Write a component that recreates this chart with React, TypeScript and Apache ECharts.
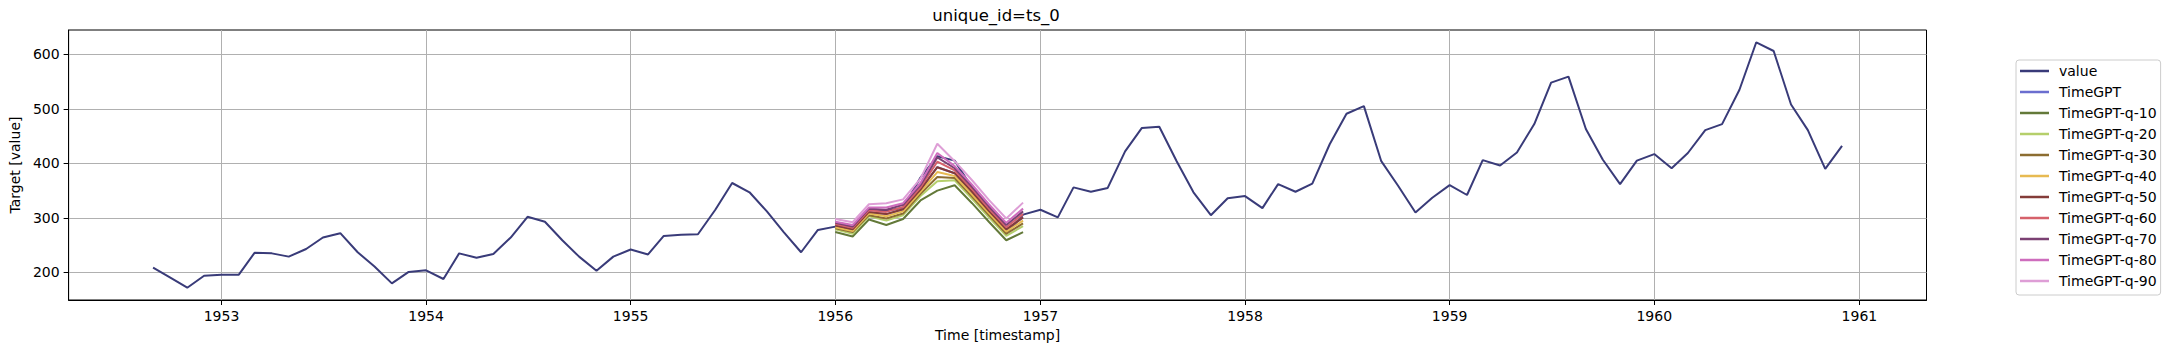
import React, { useEffect, useRef } from "react";
import * as echarts from "echarts";

// Observed series (monthly, first of month), 1952-09 .. 1960-12
const valueStart = { year: 1952, month: 9 };
const values1952 = [209, 191, 172, 194];
const values1953 = [196, 196, 236, 235, 229, 243, 264, 272, 237, 211, 180, 201];
const values1954 = [204, 188, 235, 227, 234, 264, 302, 293, 259, 229, 203, 229];
const values1955 = [242, 233, 267, 269, 270, 315, 364, 347, 312, 274, 237, 278];
const values1956 = [284, 277, 317, 313, 318, 374, 413, 405, 355, 306, 271, 306];
const values1957 = [315, 301, 356, 348, 355, 422, 465, 467, 404, 347, 305, 336];
const values1958 = [340, 318, 362, 348, 363, 435, 491, 505, 404, 359, 310, 337];
const values1959 = [360, 342, 406, 396, 420, 472, 548, 559, 463, 407, 362, 405];
const values1960 = [417, 391, 419, 461, 472, 535, 622, 606, 508, 461, 390, 432];

// Forecasts for 1956-01 .. 1956-12
const forecastStart = { year: 1956, month: 1 };
const timeGPT = [286, 279, 311, 307, 316, 352, 393, 382, 348, 313, 279, 301];
const q10 = [274, 266, 297, 287, 298, 332, 350, 360, 327, 293, 259, 274];
const q20 = [279, 271, 303, 295, 305, 340, 367, 369, 335, 301, 267, 285];
const q30 = [281, 274, 305, 299, 308, 344, 375, 373, 339, 305, 271, 290];
const q40 = [283, 276, 308, 303, 312, 348, 384, 377, 343, 309, 275, 295];
const q50 = [286, 279, 311, 307, 316, 352, 393, 382, 348, 313, 279, 301];
const q60 = [289, 282, 314, 311, 320, 356, 403, 387, 353, 317, 283, 307];
const q70 = [291, 284, 317, 315, 324, 360, 411, 391, 357, 321, 287, 312];
const q80 = [293, 287, 319, 319, 327, 364, 419, 395, 361, 325, 291, 317];
const q90 = [298, 292, 325, 327, 334, 372, 436, 404, 369, 333, 299, 328];

const seriesNames = [
  "value",
  "TimeGPT",
  "TimeGPT-q-10",
  "TimeGPT-q-20",
  "TimeGPT-q-30",
  "TimeGPT-q-40",
  "TimeGPT-q-50",
  "TimeGPT-q-60",
  "TimeGPT-q-70",
  "TimeGPT-q-80",
  "TimeGPT-q-90",
];
const seriesColors = [
  "#393b79",
  "#6b6ecf",
  "#637939",
  "#b5cf6b",
  "#8c6d31",
  "#e7ba52",
  "#843c39",
  "#d6616b",
  "#7b4173",
  "#ce6dbd",
  "#de9ed6",
];

const yearTicks = [1953, 1954, 1955, 1956, 1957, 1958, 1959, 1960, 1961];
const yTicks = [200, 300, 400, 500, 600];

const FONT = "DejaVu Sans";

function monthly(start: { year: number; month: number }, vals: number[]) {
  return vals.map((v, i) => {
    const m = start.month - 1 + i;
    const y = start.year + Math.floor(m / 12);
    return [Date.UTC(y, m % 12, 1), v];
  });
}

export default function App() {
  const ref = useRef<HTMLDivElement>(null);

  useEffect(() => {
    if (!ref.current) return;
    const chart = echarts.init(ref.current, null, { renderer: "svg" });

    const allValues = [
      ...values1952,
      ...values1953,
      ...values1954,
      ...values1955,
      ...values1956,
      ...values1957,
      ...values1958,
      ...values1959,
      ...values1960,
    ];
    const forecasts = [timeGPT, q10, q20, q30, q40, q50, q60, q70, q80, q90];
    const dataSets = [
      monthly(valueStart, allValues),
      ...forecasts.map((f) => monthly(forecastStart, f)),
    ];

    const series = seriesNames.map((name, i) => ({
      name,
      type: "line",
      data: dataSets[i],
      showSymbol: false,
      symbol: "none",
      color: seriesColors[i],
      lineStyle: { width: 2, color: seriesColors[i] },
      z: 2 + i,
    }));

    const xTickValues = yearTicks.map((y) => Date.UTC(y, 0, 1));

    const option: any = {
      animation: false,
      backgroundColor: "#ffffff",
      textStyle: { fontFamily: FONT },
      title: {
        text: "unique_id=ts_0",
        left: 996,
        top: 7,
        textAlign: "center",
        padding: 0,
        textStyle: {
          fontFamily: FONT,
          fontSize: 16.5,
          fontWeight: "normal",
          color: "#000",
        },
      },
      grid: {
        left: 66,
        right: 241.5,
        top: 30,
        bottom: 53,
        show: true,
        borderColor: "#000",
        borderWidth: 1,
        backgroundColor: "transparent",
      },
      legend: {
        orient: "vertical",
        left: 2016,
        top: 60,
        padding: [4, 4, 7, 4],
        itemGap: 7,
        itemWidth: 29,
        itemHeight: 2.5,
        icon: "rect",
        backgroundColor: "rgba(255,255,255,0.8)",
        borderColor: "#cccccc",
        borderWidth: 1,
        borderRadius: 3,
        data: seriesNames,
        textStyle: {
          fontFamily: FONT,
          fontSize: 14,
          lineHeight: 14,
          color: "#000",
          padding: [0, 0, 0, 5],
        },
      },
      xAxis: {
        type: "value",
        min: Date.UTC(1952, 3, 3, 8),
        max: Date.UTC(1961, 3, 30, 16),
        name: "Time [timestamp]",
        nameLocation: "middle",
        nameGap: 26,
        nameTextStyle: { fontFamily: FONT, fontSize: 14, color: "#000" },
        axisLine: { show: true, onZero: false, lineStyle: { color: "#000", width: 1 } },
        axisTick: {
          show: true,
          length: 5,
          inside: false,
          lineStyle: { color: "#000", width: 1 },
          customValues: xTickValues,
        },
        axisLabel: {
          show: true,
          margin: 9,
          fontFamily: FONT,
          fontSize: 14,
          color: "#000",
          customValues: xTickValues,
          formatter: (v: number) => String(new Date(v).getUTCFullYear()),
        },
        splitLine: { show: true, lineStyle: { color: "#b0b0b0", width: 1 } },
      },
      yAxis: {
        type: "value",
        min: 149.5,
        max: 644.5,
        name: "Target [value]",
        nameLocation: "middle",
        nameRotate: 90,
        nameGap: 44,
        nameTextStyle: { fontFamily: FONT, fontSize: 14, color: "#000" },
        axisLine: { show: true, lineStyle: { color: "#000", width: 1 } },
        axisTick: {
          show: true,
          length: 5,
          inside: false,
          lineStyle: { color: "#000", width: 1 },
          customValues: yTicks,
        },
        axisLabel: {
          show: true,
          margin: 9,
          fontFamily: FONT,
          fontSize: 14,
          color: "#000",
          customValues: yTicks,
        },
        splitLine: { show: true, lineStyle: { color: "#b0b0b0", width: 1 } },
      },
      series,
    };

    chart.setOption(option);
    return () => chart.dispose();
  }, []);

  return (
    <div
      ref={ref}
      style={{ position: "fixed", left: 0, top: 0, width: 2168, height: 353, background: "#fff" }}
    />
  );
}
